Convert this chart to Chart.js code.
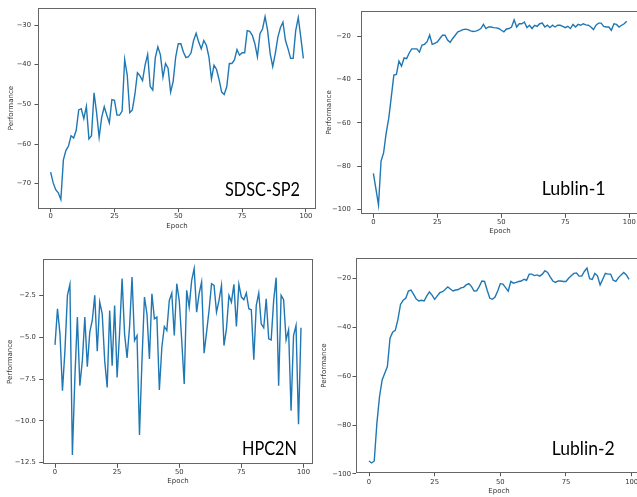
<!DOCTYPE html>
<html>
<head>
<meta charset="utf-8">
<script src="https://cdn.jsdelivr.net/npm/chart.js@4/dist/chart.umd.min.js"></script>
<style>
html,body{margin:0;padding:0;background:#fff;width:637px;height:497px;overflow:hidden;position:relative}
canvas{position:absolute;display:block}
</style>
</head>
<body>
<canvas id="p1"></canvas>
<canvas id="p2"></canvas>
<canvas id="p3"></canvas>
<canvas id="p4"></canvas>
<script>
// ---------------- data ----------------
const panelNames = ["SDSC-SP2", "Lublin-1", "HPC2N", "Lublin-2"];
const xTickValues = [0, 25, 50, 75, 100];
const yTicksSDSC = [-70, -60, -50, -40, -30];
const yTicksLublin1 = [-100, -80, -60, -40, -20];
const yTicksHPC2N = [-12.5, -10, -7.5, -5, -2.5];
const yTicksLublin2 = [-100, -80, -60, -40, -20];

const perfSDSC = [
  -67.1,-69.8,-71.5,-72.3,-74,-64,-61.6,-60.5,-57.9,-58.5,
  -56.6,-51.4,-51.1,-53.6,-50.5,-58.7,-57.9,-47.1,-52.1,-58.3,
  -53.3,-50.6,-52.7,-54.7,-48.8,-49,-52.7,-52.7,-51.7,-38.7,
  -42.6,-52.1,-51.4,-47.5,-42,-42.8,-44,-40.1,-37.4,-45.5,
  -46.4,-38.2,-35.5,-37.5,-43.1,-39.7,-40.9,-46.9,-44.2,-38,
  -34.7,-34.7,-36.8,-38.2,-38,-37,-33.9,-32.1,-34.3,-36,
  -33.9,-35.1,-38,-43.6,-40.1,-41.2,-43.8,-46.9,-47.5,-45.5,
  -39.7,-39.7,-38.8,-36.2,-37.6,-37,-37,-31.4,-31.6,-32.6,
  -34.7,-38,-32.2,-31,-27.9,-31.4,-37.2,-40.5,-37.2,-33.1,
  -30.7,-29.3,-33.9,-36,-38.4,-38.4,-31.4,-28.1,-33.1,-38.4
];
const perfLublin1 = [
  -83.4,-90.5,-98,-77.7,-73.9,-64.8,-58,-48.2,-38,-37.7,
  -31.6,-33.9,-30.1,-30.4,-27.8,-25.9,-25.9,-25.9,-27.4,-24.1,
  -23.8,-22.6,-19.5,-23.8,-23.4,-22.7,-21.1,-19.6,-19.6,-21.8,
  -22.9,-21.1,-19.6,-18,-17.6,-17,-16.8,-17,-17.6,-17.9,
  -17.7,-17.3,-16.5,-14.6,-16.5,-15.8,-15.8,-16.1,-16.2,-16.5,
  -17.3,-18,-16.7,-16.5,-15.8,-12.5,-15.8,-14.3,-14.3,-13.5,
  -16.1,-15,-16.5,-15,-15.5,-14.3,-14,-15.8,-15,-16.1,
  -15,-15.8,-15,-15,-15.5,-16.1,-15.5,-16.5,-14.6,-15.8,
  -14.6,-15,-14.3,-14.8,-15,-15.8,-17,-15,-14,-14,
  -15.5,-15.8,-15.8,-17.3,-14.3,-14.6,-15.8,-15,-14.3,-13.1
];
const perfHPC2N = [
  -5.46,-3.3,-4.8,-8.2,-5.8,-2.5,-1.84,-12.04,-7.4,-3.8,
  -7.9,-6.4,-3.8,-6.76,-4.7,-4,-2.5,-5.84,-2.9,-3.6,
  -6.4,-8,-3.4,-6.7,-3.1,-7.4,-4.7,-1.5,-4.8,-6.24,
  -4.4,-1.4,-5.2,-4.9,-10.84,-6.4,-2.6,-3.6,-6.3,-2.4,
  -3.9,-3.8,-8.16,-5.6,-4.36,-4.6,-2.8,-2.36,-4.9,-1.8,
  -2.8,-5.2,-7.8,-2.2,-3.2,-1.6,-0.9,-3.5,-2.4,-1.7,
  -5.96,-4.7,-3.4,-1.8,-1.9,-3.5,-2.8,-1.9,-5.5,-4.5,
  -2.5,-2.9,-1.84,-4.36,-1.84,-2.6,-2.76,-2.36,-3.3,-3.36,
  -6.34,-3.1,-2.36,-4.2,-4.44,-2.7,-5.1,-5.16,-2.8,-1.44,
  -7.9,-2.5,-2.76,-5.16,-4.56,-9.4,-4.9,-4.3,-10.2,-4.44
];
const perfLublin2 = [
  -94.7,-95.5,-94.7,-79.3,-68.4,-61.5,-58.8,-56,-44.4,-42,
  -41.2,-36.8,-30.6,-28.9,-28.1,-25.1,-24.7,-26.5,-28.4,-29.2,
  -28.9,-29.2,-27.1,-25.5,-26.8,-28.5,-27.1,-25.8,-25.4,-24.5,
  -23.4,-24.3,-25.1,-24.7,-24.5,-23.8,-23.6,-22.6,-22.1,-23.2,
  -25.1,-25,-23.2,-21,-21.2,-24.8,-28.1,-28.5,-27.6,-25.1,
  -22.1,-22.3,-23.7,-25.2,-21.2,-21.9,-21.6,-21.2,-21,-20.3,
  -20.7,-18.2,-18.2,-18.8,-18.5,-19,-18.2,-16.8,-17.5,-19.3,
  -21,-21.6,-21,-21,-21.2,-21.2,-19.9,-18.9,-17.9,-17.7,
  -19,-19,-17.1,-15.7,-20.1,-20.4,-17.9,-18.9,-22.6,-20.3,
  -17.9,-18.2,-18.2,-20.7,-21.2,-19.6,-18.5,-17.5,-18.5,-20.3
];

// ---------------- layout / style ----------------
const AXIS_FONT = "'DejaVu Sans', sans-serif";
const TEXT_COLOR = '#333';
const LINE_COLOR = '#1f77b4';

const layouts = [
  {id:'p1', left:0,   top:0,   w:318, h:240, padTop:4,   padRight:2,   yW:38,   xH:31.3, xTickPad:0.3, xTitlePad:9.8, yTickPad:3.5, yTitlePad:7.3, decimals:0,
   label:{x:225, y:195.5, maxWidth:75}},
  {id:'p2', left:320, top:0,   w:320, h:240, padTop:5.3, padRight:0.6, yW:40.7, xH:25.7, xTickPad:0,   xTitlePad:4.8, yTickPad:6.5, yTitlePad:5.3, decimals:0,
   label:{x:221.7, y:195, maxWidth:64}},
  {id:'p3', left:0,   top:250, w:320, h:245, padTop:9.3, padRight:6.7, yW:42.7, xH:30.7, xTickPad:0.6, xTitlePad:9.8, yTickPad:3.5, yTitlePad:5.6, decimals:1,
   label:{x:242, y:205, maxWidth:55}},
  {id:'p4', left:320, top:250, w:325, h:247, padTop:8.3, padRight:3,   yW:36,   xH:24.3, xTickPad:1.7, xTitlePad:1.8, yTickPad:1.5, yTitlePad:0,   decimals:0,
   label:{x:231.7, y:205, maxWidth:63}}
];
const seriesList = [perfSDSC, perfLublin1, perfHPC2N, perfLublin2];
const yTickList = [yTicksSDSC, yTicksLublin1, yTicksHPC2N, yTicksLublin2];

function fmt(v, decimals) {
  const s = Math.abs(v).toFixed(decimals);
  return (v < 0 ? '\u2212' : '') + s;
}

const framePlugin = {
  id: 'frameAndName',
  afterDraw(chart, args, opts) {
    const {ctx, chartArea: a} = chart;
    ctx.save();
    ctx.strokeStyle = '#666';
    ctx.lineWidth = 1;
    const l = Math.round(a.left) + 0.5, t = Math.round(a.top) + 0.5;
    const r = Math.round(a.right) - 0.5, b = Math.round(a.bottom) - 0.5;
    ctx.strokeRect(l, t, r - l, b - t);
    ctx.fillStyle = '#000';
    ctx.font = "20px Lato, 'Liberation Sans', sans-serif";
    ctx.textAlign = 'left';
    ctx.textBaseline = 'alphabetic';
    ctx.fillText(opts.text, opts.x, opts.y, opts.maxWidth);
    ctx.restore();
  }
};

layouts.forEach((L, i) => {
  const values = seriesList[i];
  const yTicks = yTickList[i];
  const canvas = document.getElementById(L.id);
  canvas.width = L.w; canvas.height = L.h;
  canvas.style.left = L.left + 'px'; canvas.style.top = L.top + 'px';
  canvas.style.width = L.w + 'px'; canvas.style.height = L.h + 'px';

  const n = values.length;
  const xMargin = (n - 1) * 0.05;
  const yMinData = Math.min(...values), yMaxData = Math.max(...values);
  const yMargin = (yMaxData - yMinData) * 0.05;

  new Chart(canvas, {
    type: 'line',
    data: {
      datasets: [{
        data: values.map((v, k) => ({x: k, y: v})),
        borderColor: LINE_COLOR,
        borderWidth: 1.4,
        pointRadius: 0,
        tension: 0,
        fill: false
      }]
    },
    options: {
      responsive: false,
      animation: false,
      devicePixelRatio: 1,
      layout: {padding: {left: 0, top: L.padTop, right: L.padRight, bottom: 0}},
      plugins: {
        legend: {display: false},
        tooltip: {enabled: false},
        frameAndName: {text: panelNames[i], x: L.label.x, y: L.label.y, maxWidth: L.label.maxWidth}
      },
      scales: {
        x: {
          type: 'linear',
          min: -xMargin,
          max: (n - 1) + xMargin,
          afterBuildTicks: s => { s.ticks = xTickValues.map(v => ({value: v})); },
          afterFit: s => { s.height = L.xH; },
          ticks: {autoSkip: false, maxRotation: 0, padding: L.xTickPad, color: TEXT_COLOR,
                  font: {family: AXIS_FONT, size: 6.8}, callback: v => fmt(v, 0)},
          grid: {drawOnChartArea: false, drawTicks: true, tickLength: 3.5, color: '#555'},
          border: {display: false},
          title: {display: true, text: 'Epoch', color: TEXT_COLOR,
                  font: {family: AXIS_FONT, size: 7}, padding: {top: 0, bottom: L.xTitlePad}}
        },
        y: {
          type: 'linear',
          min: yMinData - yMargin,
          max: yMaxData + yMargin,
          afterBuildTicks: s => { s.ticks = yTicks.map(v => ({value: v})); },
          afterFit: s => { s.width = L.yW; },
          ticks: {autoSkip: false, padding: L.yTickPad, color: TEXT_COLOR,
                  font: {family: AXIS_FONT, size: 6.8}, callback: v => fmt(v, L.decimals)},
          grid: {drawOnChartArea: false, drawTicks: true, tickLength: 3.5, color: '#555'},
          border: {display: false},
          title: {display: true, text: 'Performance', color: TEXT_COLOR,
                  font: {family: AXIS_FONT, size: 7}, padding: {top: L.yTitlePad, bottom: 0}}
        }
      }
    },
    plugins: [framePlugin]
  });
});
</script>
</body>
</html>
